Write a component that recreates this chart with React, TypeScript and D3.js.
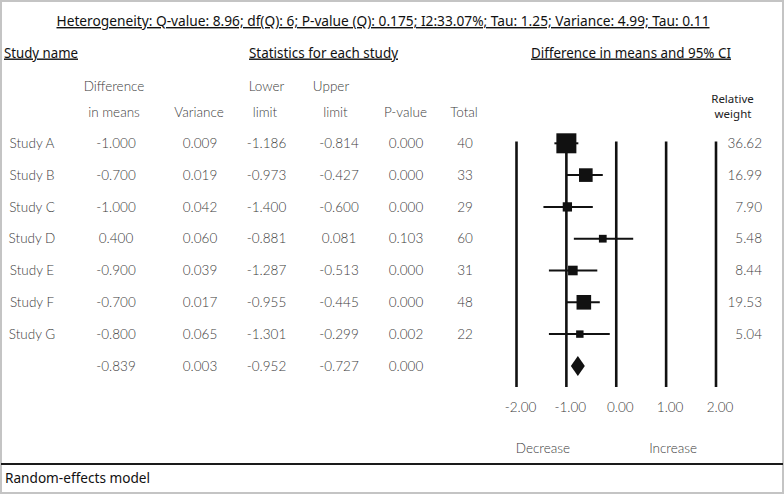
import React from "react";
import * as d3 from "d3";

const studies = ["Study A", "Study B", "Study C", "Study D", "Study E", "Study F", "Study G"];
const diffInMeans = [-1.0, -0.7, -1.0, 0.4, -0.9, -0.7, -0.8];
const variances = [0.009, 0.019, 0.042, 0.06, 0.039, 0.017, 0.065];
const lowerLimits = [-1.186, -0.973, -1.4, -0.881, -1.287, -0.955, -1.301];
const upperLimits = [-0.814, -0.427, -0.6, 0.081, -0.513, -0.445, -0.299];
const pValues = [0.0, 0.0, 0.0, 0.103, 0.0, 0.0, 0.002];
const totals = [40, 33, 29, 60, 31, 48, 22];
const relWeights = [36.62, 16.99, 7.9, 5.48, 8.44, 19.53, 5.04];
const summaryRow = [-0.839, 0.003, -0.952, -0.727, 0.0];

// positions of the marks as drawn in the picture (in difference-in-means units)
const plotMean = [-1.0, -0.61, -0.98, -0.27, -0.87, -0.65, -0.73];
const plotLow = [-1.24, -0.99, -1.46, -0.85, -1.35, -0.99, -1.35];
const plotHigh = [-0.76, -0.27, -0.47, 0.34, -0.38, -0.33, -0.13];
const diamond = [-0.91, -0.77, -0.63];
const axisTicks = [-2, -1, 0, 1, 2];

const W = 784;
const H = 494;
const light = "Lato, 'Open Sans', sans-serif";
const head = "'Noto Sans', 'Open Sans', sans-serif";
const txtCol = "#3c3c3c";

export default function App() {
  const x = d3.scaleLinear().domain([-2, 2]).range([516.5, 716]);
  const rowY = d3.scaleLinear().domain([0, 1]).range([143.3, 175.1]);
  const sizeScale = d3.scaleSqrt().domain([0, 36.62]).range([0, 20]);
  const fmt3 = d3.format(".3f");
  const fmt2 = d3.format(".2f");
  const f3 = (v: number) => fmt3(v).replace("\u2212", "-");
  const f2 = (v: number) => fmt2(v).replace("\u2212", "-");
  const colX = [116, 200, 266.5, 339, 406, 465];
  const lineTop = 141.5;
  const lineBottom = 387;

  const rows = studies.map((s, i) => [
    f3(diffInMeans[i]),
    f3(variances[i]),
    f3(lowerLimits[i]),
    f3(upperLimits[i]),
    f3(pValues[i]),
    String(totals[i]),
  ]);

  return (
    <svg
      width={W}
      height={H}
      style={{ position: "absolute", left: 0, top: 0, background: "#fff" }}
    >
      <rect x={1} y={1} width={W - 2} height={H - 2} fill="#fff" stroke="#c4c4c4" strokeWidth={2} />
      <line x1={1} x2={W - 1} y1={464} y2={464} stroke="#1a1a1a" strokeWidth={2} />

      <text
        x={383}
        y={26}
        textAnchor="middle"
        fontFamily={head}
        fontSize={14}
        fill="#111"
        textDecoration="underline"
        textLength={653}
        lengthAdjust="spacingAndGlyphs"
      >
        Heterogeneity: Q-value: 8.96; df(Q): 6; P-value (Q): 0.175; I2:33.07%; Tau: 1.25; Variance: 4.99; Tau: 0.11
      </text>

      <text x={4} y={57.5} fontFamily={head} fontSize={14} fill="#111" textDecoration="underline" textLength={74} lengthAdjust="spacingAndGlyphs">
        Study name
      </text>
      <text x={249} y={57.5} fontFamily={head} fontSize={14} fill="#111" textDecoration="underline" textLength={149} lengthAdjust="spacingAndGlyphs">
        Statistics for each study
      </text>
      <text x={531} y={57.5} fontFamily={head} fontSize={14} fill="#111" textDecoration="underline" textLength={200} lengthAdjust="spacingAndGlyphs">
        Difference in means and 95% CI
      </text>

      <g fontFamily={light} fontWeight={300} fontSize={13.5} fill={txtCol} textAnchor="middle">
        <text x={114} y={91}>Difference</text>
        <text x={114} y={117}>in means</text>
        <text x={199} y={117}>Variance</text>
        <text x={266.5} y={91}>Lower</text>
        <text x={265} y={117}>limit</text>
        <text x={331} y={91}>Upper</text>
        <text x={335.5} y={117}>limit</text>
        <text x={405.5} y={117}>P-value</text>
        <text x={464} y={117}>Total</text>
      </g>
      <g fontFamily={head} fontSize={11.5} fill="#222" textAnchor="middle">
        <text x={732.5} y={103}>Relative</text>
        <text x={733} y={118}>weight</text>
      </g>

      <g fontFamily={light} fontWeight={300} fontSize={13.5} fill={txtCol}>
        {studies.map((s, i) => (
          <g key={s}>
            <text x={32} y={rowY(i)} dy="0.35em" textAnchor="middle">{s}</text>
            {rows[i].map((v, j) => (
              <text key={j} x={colX[j]} y={rowY(i)} dy="0.35em" textAnchor="middle">{v}</text>
            ))}
            <text x={762} y={rowY(i)} dy="0.35em" textAnchor="end">{f2(relWeights[i])}</text>
          </g>
        ))}
        {summaryRow.map((v, j) => (
          <text key={"s" + j} x={colX[j]} y={rowY(7)} dy="0.35em" textAnchor="middle">{f3(v)}</text>
        ))}
        {axisTicks.map((t) => (
          <text key={"t" + t} x={x(t) + 4} y={407} dy="0.35em" textAnchor="middle">{f2(t)}</text>
        ))}
        <text x={x(-1.47)} y={448} dy="0.35em" textAnchor="middle">Decrease</text>
        <text x={x(1.14)} y={448} dy="0.35em" textAnchor="middle">Increase</text>
      </g>

      <g stroke="#111" strokeWidth={2.6}>
        {axisTicks.map((t) => (
          <line key={t} x1={x(t)} x2={x(t)} y1={lineTop} y2={lineBottom} />
        ))}
      </g>

      <g>
        {studies.map((s, i) => {
          const sz = sizeScale(relWeights[i]);
          const cy = rowY(i);
          return (
            <g key={s}>
              <line x1={x(plotLow[i])} x2={x(plotHigh[i])} y1={cy} y2={cy} stroke="#111" strokeWidth={2} />
              <rect x={x(plotMean[i]) - sz / 2} y={cy - sz / 2} width={sz} height={sz} fill="#111" />
            </g>
          );
        })}
        <path
          d={`M${x(diamond[0])},${rowY(7)} L${x(diamond[1])},${rowY(7) - 10} L${x(diamond[2])},${rowY(7)} L${x(diamond[1])},${rowY(7) + 10} Z`}
          fill="#111"
        />
      </g>

      <text x={5} y={483} fontFamily={head} fontSize={14} fill="#111" textLength={145} lengthAdjust="spacingAndGlyphs">
        Random-effects model
      </text>
    </svg>
  );
}
